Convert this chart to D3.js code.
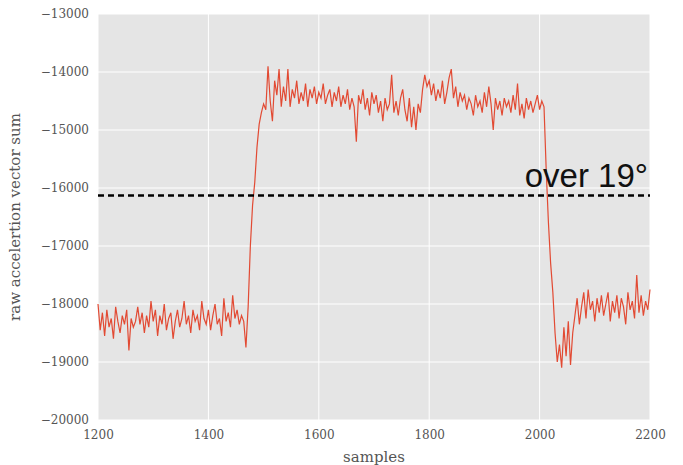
<!DOCTYPE html>
<html>
<head>
<meta charset="utf-8">
<script src="https://cdn.jsdelivr.net/npm/d3@7"></script>
<style>
  body { margin: 0; background: #fff; }
  .tick text { font-family: "DejaVu Serif", serif; font-size: 12px; fill: #555; }
</style>
</head>
<body>
<div id="chart"></div>
<script>
// sample index of the first value, step between values
var startSample = 1200;
var sampleStep = 4;

// raw acceleration vector sum, every 4 samples
var rest1 = [
  -18000, -18450, -18150, -18550, -18100, -18400, -18250, -18600, -18050, -18300,
  -18500, -18200, -18350, -18100, -18800, -18250, -18400, -18300, -18050, -18350,
  -18150, -18500, -18200, -18400, -17950, -18300, -18100, -18550, -18200, -18350,
  -18000, -18450, -18250, -18150, -18600, -18300, -18100, -18400, -18250, -17950,
  -18350, -18200, -18500, -18100, -18300, -18200, -18450, -17950, -18250, -18350,
  -18100, -18450, -18200, -18000, -18350, -18250, -18550, -17900, -18300, -18150,
  -18400, -17850, -18250, -18100, -18350, -18200, -18300, -18750
];
var rise = [-18050, -17000, -16300, -15900, -15300, -14900, -14700, -14550, -14650, -13900];
var tilt1 = [
  -14500, -14850, -14150, -14400, -13950, -14600, -14250, -14500, -13950, -14600,
  -14300, -14450, -14150, -14550, -14350, -14500, -14200, -14600, -14300, -14450,
  -14250, -14550, -14350, -14450, -14200, -14550, -14400, -14300, -14600, -14350,
  -14500, -14250, -14600, -14400, -14550, -14300, -14650, -14450, -14600, -15200,
  -14400, -14550, -14300, -14650, -14450, -14750, -14350, -14550, -14400, -14700,
  -14500, -14850, -14450, -14650, -14550, -14050, -14700, -14500, -14750, -14450,
  -14300, -14650, -14850, -14450, -14950, -14600, -15000, -14550
];
var tilt2 = [
  -14700, -14300, -14050, -14250, -14150, -14400, -14200, -14500, -14300, -14450,
  -14150, -14550, -14350, -14100, -13950, -14450, -14250, -14600, -14350, -14500,
  -14400, -14650, -14450, -14550, -14750, -14400, -14600, -14500, -14700, -14350,
  -14600, -14250, -14550, -15000, -14450, -14650, -14500, -14750, -14450, -14600,
  -14500, -14700, -14400, -14650, -14200, -14750, -14550, -14800, -14450, -14650,
  -14500, -14700, -14550, -14400, -14650, -14500, -14600
];
var fall = [
  -15700, -16600, -17300, -17800, -18500, -19000, -18700, -19100, -18400, -18900,
  -18300, -19050, -18500, -18200, -17900, -18350, -18050, -17800, -18250, -17750,
  -18100, -17950, -18300, -17900, -18150, -17850, -18200, -18000, -17800, -18300,
  -17950, -18150, -17850, -18250, -17900, -18050, -18350, -17800, -18100, -17950,
  -18250, -17500, -18150, -17850, -18200, -17950, -18100, -17750
];

var threshold = -16130;
var thresholdLabel = "over 19°";

var xTicks = [1200, 1400, 1600, 1800, 2000, 2200];
var yTicks = [-20000, -19000, -18000, -17000, -16000, -15000, -14000, -13000];

var values = rest1.concat(rise, tilt1, tilt2, fall);
var data = values.map(function(v, i) {
  return { sample: startSample + i * sampleStep, value: v };
});

// set the dimensions and margins of the graph
var margin = {top: 14, right: 33, bottom: 45, left: 98},
    width = 683 - margin.left - margin.right,
    height = 465 - margin.top - margin.bottom;

var x = d3.scaleLinear().domain([1200, 2200]).range([0, width]);
var y = d3.scaleLinear().domain([-20000, -13000]).range([height, 0]);

var svg = d3.select("#chart").append("svg")
    .attr("width", 683)
    .attr("height", 465)
  .append("g")
    .attr("transform", "translate(" + margin.left + "," + margin.top + ")");

// grey panel
svg.append("rect")
    .attr("width", width)
    .attr("height", height)
    .attr("fill", "#e5e5e5");

// white grid
svg.append("g").selectAll("line.gx")
    .data(xTicks).enter().append("line")
    .attr("x1", function(d) { return x(d); })
    .attr("x2", function(d) { return x(d); })
    .attr("y1", 0).attr("y2", height)
    .attr("stroke", "#fff").attr("stroke-width", 1);
svg.append("g").selectAll("line.gy")
    .data(yTicks).enter().append("line")
    .attr("y1", function(d) { return y(d); })
    .attr("y2", function(d) { return y(d); })
    .attr("x1", 0).attr("x2", width)
    .attr("stroke", "#fff").attr("stroke-width", 1);

// axes, no lines or ticks, just labels
var xAxis = svg.append("g")
    .attr("transform", "translate(0," + height + ")")
    .call(d3.axisBottom(x).tickValues(xTicks).tickSize(0).tickPadding(10).tickFormat(d3.format("d")));
xAxis.select(".domain").remove();

var yAxis = svg.append("g")
    .call(d3.axisLeft(y).tickValues(yTicks).tickSize(0).tickPadding(9).tickFormat(function(d) { return "\u2212" + Math.abs(d); }));
yAxis.select(".domain").remove();

// the signal
var line = d3.line()
    .x(function(d) { return x(d.sample); })
    .y(function(d) { return y(d.value); });

svg.append("path")
    .datum(data)
    .attr("fill", "none")
    .attr("stroke", "#e24a33")
    .attr("stroke-width", 1.2)
    .attr("d", line);

// threshold
svg.append("line")
    .attr("x1", 0).attr("x2", width)
    .attr("y1", y(threshold)).attr("y2", y(threshold))
    .attr("stroke", "#000")
    .attr("stroke-width", 2.5)
    .attr("stroke-dasharray", "6,4");

svg.append("text")
    .attr("x", width - 2)
    .attr("y", y(threshold) - 9)
    .attr("text-anchor", "end")
    .style("font-family", "'Liberation Sans', Arial, sans-serif")
    .style("font-size", "33px")
    .style("fill", "#111")
    .text(thresholdLabel);

// axis titles
svg.append("text")
    .attr("x", width / 2)
    .attr("y", height + 42)
    .attr("text-anchor", "middle")
    .style("font-family", "'DejaVu Serif', serif")
    .style("font-size", "15px")
    .style("fill", "#555")
    .text("samples");

svg.append("text")
    .attr("transform", "rotate(-90)")
    .attr("x", -height / 2)
    .attr("y", -78)
    .attr("text-anchor", "middle")
    .style("font-family", "'DejaVu Serif', serif")
    .style("font-size", "15px")
    .style("fill", "#555")
    .text("raw accelertion vector sum");
</script>
</body>
</html>
